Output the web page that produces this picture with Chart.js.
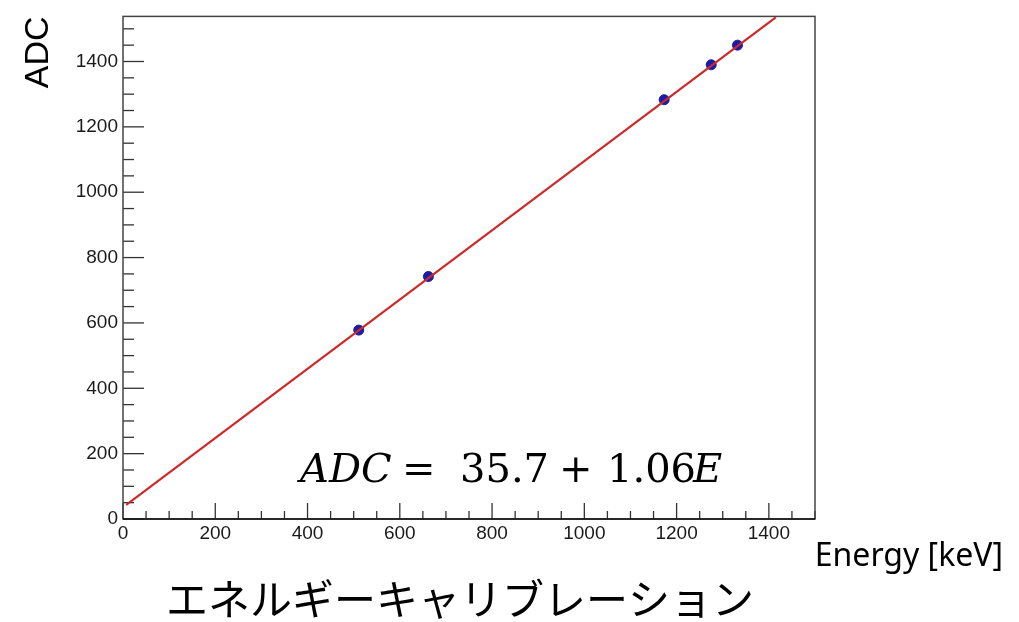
<!DOCTYPE html>
<html>
<head>
<meta charset="utf-8">
<script src="https://cdn.jsdelivr.net/npm/chart.js@4"></script>
<style>
  html, body { margin: 0; padding: 0; background: #fff; }
  #wrap { width: 1019px; height: 622px; position: relative; }
</style>
</head>
<body>
<div id="wrap"><canvas id="calib"></canvas></div>
<script>
// ===== DATA =====
const energy = [511, 662, 1173, 1275, 1332];
const adc = [578, 742, 1283, 1390, 1450];

// fit line end points
const fitEnergy = [7, 1415];
const fitAdc = [43, 1535];

const xTicks = [0, 200, 400, 600, 800, 1000, 1200, 1400];
const yTicks = [0, 200, 400, 600, 800, 1000, 1200, 1400];
const minorStep = 50;

const xRange = [0, 1500];
const yRange = [0, 1538];

const titleText = "エネルギーキャリブレーション";
const xTitle = "Energy [keV]";
const yTitle = "ADC";

// ===== PLUGINS =====
const frameTicks = {
  id: "frameTicks",
  beforeDatasetsDraw(chart) {
    const { ctx, chartArea: a, scales } = chart;
    ctx.save();
    ctx.strokeStyle = "#333";
    ctx.lineWidth = 1.3;

    // x ticks, inside
    for (let v = xRange[0]; v <= xRange[1]; v += minorStep) {
      const px = scales.x.getPixelForValue(v);
      const len = v % 200 === 0 ? 16 : 8;
      ctx.beginPath();
      ctx.moveTo(px, a.bottom);
      ctx.lineTo(px, a.bottom - len);
      ctx.stroke();
    }
    // y ticks, inside
    for (let v = yRange[0]; v <= yRange[1]; v += minorStep) {
      const py = scales.y.getPixelForValue(v);
      const len = v % 200 === 0 ? 21 : 11;
      ctx.beginPath();
      ctx.moveTo(a.left, py);
      ctx.lineTo(a.left + len, py);
      ctx.stroke();
    }

    // frame
    ctx.strokeStyle = "#444";
    ctx.lineWidth = 1.5;
    ctx.strokeRect(a.left, a.top, a.right - a.left, a.bottom - a.top);
    ctx.strokeStyle = "#111";
    ctx.beginPath();
    ctx.moveTo(a.left, a.bottom);
    ctx.lineTo(a.right, a.bottom);
    ctx.stroke();
    ctx.restore();
  },
  afterDraw(chart) {
    const { ctx, chartArea: a } = chart;
    ctx.save();
    ctx.fillStyle = "#000";

    // y title, top aligned like ROOT
    ctx.save();
    ctx.translate(39, a.top);
    ctx.rotate(-Math.PI / 2);
    ctx.font = "34px 'Liberation Sans', Arial, sans-serif";
    ctx.textAlign = "right";
    ctx.textBaseline = "middle";
    ctx.fillText(yTitle, 0, 0);
    ctx.restore();

    // x title
    ctx.font = "32px 'Noto Sans', sans-serif";
    ctx.textAlign = "right";
    ctx.textBaseline = "alphabetic";
    ctx.fillText(xTitle, 1003, 566);

    // bottom title
    ctx.font = "42px 'Noto Sans CJK JP', sans-serif";
    ctx.textAlign = "center";
    ctx.fillText(titleText, 460, 615);

    // fit formula
    const pieces = [
      { t: "ADC", x: 300, it: true },
      { t: "=", x: 402, it: false },
      { t: "35.7", x: 460, it: false },
      { t: "+", x: 559, it: false },
      { t: "1.06", x: 607, it: false },
      { t: "E", x: 693, it: true },
    ];
    ctx.textAlign = "left";
    pieces.forEach((p) => {
      ctx.font = (p.it ? "italic " : "") + "40px 'DejaVu Serif', serif";
      ctx.fillText(p.t, p.x, 482);
    });
    ctx.restore();
  },
};

// ===== CHART =====
new Chart(document.getElementById("calib"), {
  type: "scatter",
  data: {
    datasets: [
      {
        label: "fit",
        type: "line",
        data: fitEnergy.map((e, i) => ({ x: e, y: fitAdc[i] })),
        borderColor: "#cc2a2a",
        borderWidth: 2.2,
        pointRadius: 0,
        fill: false,
        order: 0,
      },
      {
        label: "data",
        data: energy.map((e, i) => ({ x: e, y: adc[i] })),
        backgroundColor: "#1c1ca6",
        borderColor: "#1c1ca6",
        pointRadius: 5,
        order: 1,
      },
    ],
  },
  options: {
    responsive: true,
    maintainAspectRatio: false,
    animation: false,
    layout: { padding: { top: 12, right: 204, left: 0, bottom: 0 } },
    plugins: {
      legend: { display: false },
      tooltip: { enabled: false },
    },
    scales: {
      x: {
        type: "linear",
        min: xRange[0],
        max: xRange[1],
        afterBuildTicks: (s) => { s.ticks = xTicks.map((v) => ({ value: v })); },
        afterFit: (s) => { s.height = 103; },
        grid: { display: false, drawTicks: false },
        border: { display: false },
        ticks: {
          color: "#1a1a1a",
          padding: 3,
          maxRotation: 0,
          callback: (v) => String(v),
          font: { family: "'Liberation Sans', Arial, sans-serif", size: 19 },
        },
      },
      y: {
        type: "linear",
        min: yRange[0],
        max: yRange[1],
        afterBuildTicks: (s) => { s.ticks = yTicks.map((v) => ({ value: v })); },
        afterFit: (s) => { s.width = 123; },
        grid: { display: false, drawTicks: false },
        border: { display: false },
        ticks: {
          color: "#1a1a1a",
          padding: 5,
          callback: (v) => String(v),
          font: { family: "'Liberation Sans', Arial, sans-serif", size: 19 },
        },
      },
    },
  },
  plugins: [frameTicks],
});
</script>
</body>
</html>
